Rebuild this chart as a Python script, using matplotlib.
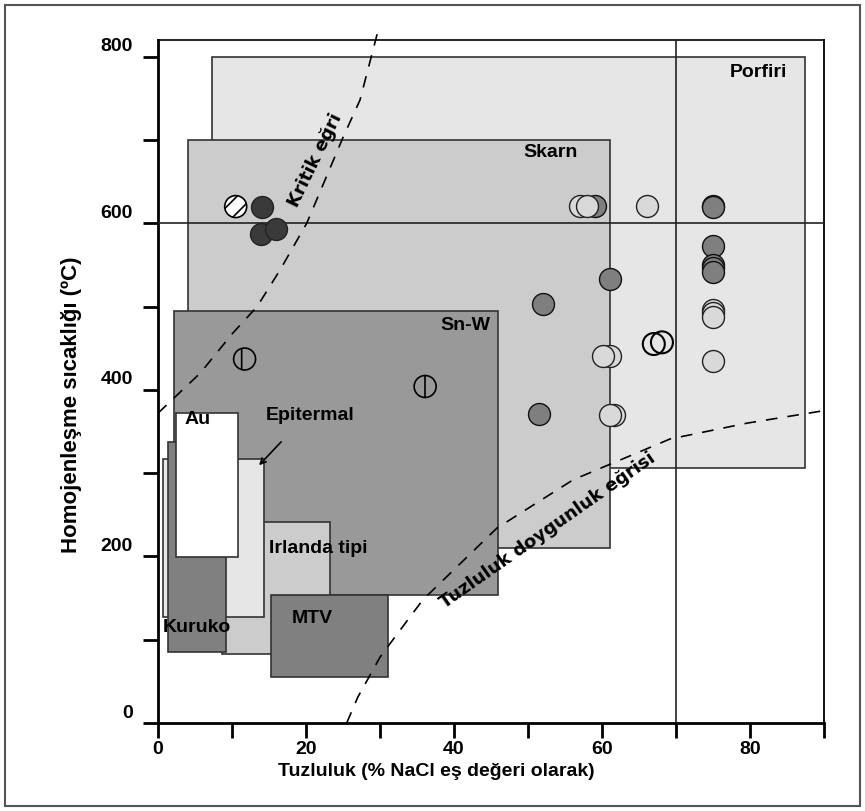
import matplotlib
matplotlib.use("Agg")
import matplotlib.pyplot as plt
import matplotlib.transforms as mtransforms
from matplotlib.patches import Rectangle

# Deposit fields: name, salinity range (x0, x1), temperature range (y0, y1)
box_names = ["Porfiri", "Skarn", "Sn-W", "Irlanda tipi", "Epitermal", "Kuruko", "Au", "MTV"]
box_x0 = [7.3, 4.0, 2.2, 8.6, 0.7, 1.4, 2.4, 15.3]
box_x1 = [87.4, 61.1, 46.0, 23.2, 14.3, 9.2, 10.8, 31.1]
box_y0 = [306, 210, 154, 83, 127, 85, 199, 55]
box_y1 = [800, 700, 495, 241, 317, 337, 372, 154]
box_colors = ["#e6e6e6", "#cccccc", "#999999", "#cccccc", "#e6e6e6", "#808080", "#ffffff", "#808080"]

# Label positions of fields
label_x = [81.2, 53.0, 41.5, 21.6, 20.5, 5.3, 5.3, 20.9]
label_y = [781, 685, 477, 210, 369, 115, 364, 125]

# Critical curve and halite saturation curve
crit_x = [0, 5.7, 10.1, 13.4, 16.5, 20.1, 25.0, 27.3, 29.7]
crit_y = [372, 420, 468, 500, 544, 600, 703, 748, 830]
sat_x = [25.5, 27.0, 30.0, 32.0, 35.8, 45.8, 56.1, 69.2, 79.6, 90.0]
sat_y = [0, 31, 79, 103, 148, 234, 292, 341, 360, 375]

# Fluid inclusion data
dark_x = [14.0, 13.9, 16.0]
dark_y = [620, 587, 593]
mid_x = [59.1, 61.1, 52.0, 51.5, 75.0, 75.0, 75.0, 75.0, 75.0, 75.0]
mid_y = [621, 533, 503, 371, 621, 620, 573, 550, 546, 542]
light_x = [57.0, 58.0, 66.1, 61.1, 60.1, 61.6, 61.1, 75.0, 75.0, 75.0, 75.0]
light_y = [621, 621, 621, 441, 441, 370, 370, 496, 492, 488, 435]
open_x = [67.0, 68.1]
open_y = [455, 457]
diag_x = [10.5]
diag_y = [620]
vert_x = [11.7, 36.1]
vert_y = [437, 404]

plt.rcParams["font.family"] = ["Liberation Sans", "DejaVu Sans"]
plt.rcParams["hatch.linewidth"] = 1.2

fig = plt.figure(figsize=(8.65, 8.11), dpi=100)
ax = fig.add_axes([158 / 865, 1 - 723 / 811, 666 / 865, 683 / 811])

# outer frame
fig.patches.append(Rectangle((5 / 865, 5 / 811), 855 / 865, 801 / 811, transform=fig.transFigure,
                             fill=False, edgecolor="#555555", linewidth=1.5))

for i in range(len(box_names)):
    ax.add_patch(Rectangle((box_x0[i], box_y0[i]), box_x1[i] - box_x0[i], box_y1[i] - box_y0[i],
                           facecolor=box_colors[i], edgecolor="#333333", linewidth=1.2, zorder=1 + i * 0.1))
    ax.text(label_x[i], label_y[i], box_names[i], fontsize=14, fontweight="bold",
            ha="center", va="center", zorder=5)

ax.axhline(600, color="#222222", linewidth=1.2, zorder=3)
ax.axvline(70, color="#222222", linewidth=1.2, zorder=3)

ax.plot(crit_x, crit_y, color="black", linewidth=1.2, dashes=(7, 6), zorder=4, clip_on=False)
ax.plot(sat_x, sat_y, color="black", linewidth=1.2, dashes=(7, 6), zorder=4, clip_on=False)

ax.text(21.2, 676, "Kritik eğri", rotation=64, fontsize=13, fontweight="bold",
        family="DejaVu Sans", ha="center", va="center", zorder=5)
ax.text(52.6, 231, "Tuzluluk doygunluk eğrisi", rotation=35, fontsize=13, fontweight="bold",
        family="DejaVu Sans", ha="center", va="center", zorder=5)

ax.annotate("", xy=(13.4, 307), xytext=(16.9, 340),
            arrowprops=dict(arrowstyle="->", color="black", lw=1.2), zorder=5)

ms = 250
ax.scatter(mid_x, mid_y, s=ms, facecolor="#7f7f7f", edgecolor="#111111", linewidth=1.0, zorder=6)
ax.scatter(light_x, light_y, s=ms, facecolor="#d9d9d9", edgecolor="#222222", linewidth=1.0, zorder=6)
ax.scatter(dark_x, dark_y, s=ms, facecolor="#3a3a3a", edgecolor="#222222", linewidth=1.0, zorder=6)
ax.scatter(open_x, open_y, s=ms, facecolor="none", edgecolor="black", linewidth=1.5, zorder=6)
ax.scatter(diag_x, diag_y, s=ms, facecolor="white", edgecolor="black", linewidth=1.2, hatch="//", zorder=6)
ax.scatter(vert_x, vert_y, s=ms, facecolor="none", edgecolor="black", linewidth=1.2, hatch="|", zorder=6)

ax.set_xlim(0, 90)
ax.set_ylim(0, 820)
ax.set_xticks(range(0, 91, 10))
ax.set_xticklabels(["0", "", "20", "", "40", "", "60", "", "80", ""])
ax.set_yticks(range(0, 801, 100))
ax.set_yticklabels(["0", "", "200", "", "400", "", "600", "", "800"])
ax.tick_params(direction="out", length=11, width=2, labelsize=14)
ax.tick_params(axis="x", pad=2)
ax.tick_params(axis="y", pad=7)
for lab in ax.get_xticklabels() + ax.get_yticklabels():
    lab.set_fontweight("bold")

# y tick labels sit a little above their ticks in the original
offset = mtransforms.ScaledTranslation(0, 0.12, fig.dpi_scale_trans)
for lab in ax.yaxis.get_majorticklabels():
    lab.set_transform(lab.get_transform() + offset)

ax.spines["left"].set_linewidth(2)
ax.spines["bottom"].set_linewidth(2)
ax.spines["top"].set_linewidth(1.2)
ax.spines["right"].set_linewidth(1.3)

fig.text(436 / 865, 1 - 772 / 811, "Tuzluluk (% NaCl eş değeri olarak)", fontsize=14,
         fontweight="bold", ha="center", va="center")
fig.text(72 / 865, 1 - 405 / 811, "Homojenleşme sıcaklığı (ºC)", fontsize=16,
         fontweight="bold", ha="center", va="center", rotation=90)

fig.savefig("out.png", dpi=100)
